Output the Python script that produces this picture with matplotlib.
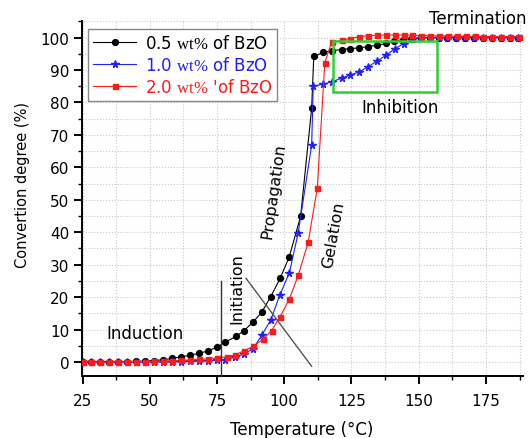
import matplotlib
matplotlib.use("Agg")
import matplotlib.pyplot as plt
from matplotlib.patches import Rectangle
from matplotlib.ticker import MultipleLocator

plt.rcParams['font.family'] = ['DejaVu Sans']
plt.rcParams['mathtext.fontset'] = 'custom'
plt.rcParams['mathtext.rm'] = 'Liberation Serif'

# ---- data ----
temp_05 = [25.0, 28.3, 31.6, 34.9, 38.2, 41.5, 44.8, 48.1, 51.4, 54.8, 58.2, 61.6, 65.0, 68.3, 71.6,
           75.0, 78.0, 82.1, 85.1, 88.5, 91.6, 95.0, 98.5, 101.9, 106.1, 110.2, 111.0, 114.5, 117.9,
           121.4, 124.4, 127.8, 131.0, 134.4, 137.8, 140.8, 144.0, 147.3, 150.8, 154.1, 157.4, 160.7,
           164.0, 167.3, 170.6, 173.9, 177.2, 180.5, 183.8, 187.1]
conv_05 = [0, 0, 0, 0.05, 0.1, 0.15, 0.2, 0.3, 0.45, 0.7, 1.1, 1.6, 2.1, 2.7, 3.4,
           4.6, 6.1, 7.9, 9.7, 12.4, 15.3, 20.2, 25.8, 32.5, 44.9, 78.2, 94.2, 95.4, 96.0,
           96.3, 96.6, 96.8, 97.2, 97.6, 98.2, 98.8, 99.4, 99.7, 99.9, 100, 100, 100,
           100, 100, 100, 100, 100, 100, 100, 100]

temp_10 = [25.0, 28.3, 31.6, 34.9, 38.2, 41.5, 44.8, 48.1, 51.4, 54.8, 58.2, 61.6, 65.0, 68.3, 71.6,
           75.0, 78.0, 81.7, 85.1, 88.3, 91.6, 95.0, 98.4, 101.9, 105.2, 110.2, 110.8, 114.3, 117.6,
           121.4, 124.4, 127.8, 131.2, 134.4, 137.8, 141.2, 144.5, 147.8, 150.8, 154.1, 157.4, 160.7,
           164.0, 167.3, 170.6, 173.9, 177.2, 180.5, 183.8, 187.1]
conv_10 = [0, 0, 0, 0, 0, 0, 0, 0.02, 0.05, 0.08, 0.1, 0.15, 0.2, 0.25, 0.35,
           0.5, 0.7, 1.5, 2.5, 4.0, 8.2, 13.0, 20.7, 27.5, 39.8, 66.8, 85.0, 85.6, 86.3,
           87.5, 88.4, 89.4, 91.0, 92.7, 94.5, 96.6, 98.1, 99.5, 100, 100, 100, 100,
           100, 100, 100, 100, 100, 100, 100, 100]

temp_20 = [25.0, 28.3, 31.6, 34.9, 38.2, 41.5, 44.8, 48.1, 51.4, 54.8, 58.2, 61.6, 65.0, 68.3, 71.6,
           75.1, 78.6, 81.7, 85.1, 88.5, 92.1, 95.3, 98.5, 101.9, 105.2, 108.9, 112.3, 115.1, 117.6,
           121.4, 124.4, 127.8, 131.2, 134.5, 137.8, 141.1, 144.4, 147.7, 151.0, 154.3, 157.6, 160.9,
           164.2, 167.5, 170.8, 174.1, 177.4, 180.7, 184.0, 187.4]
conv_20 = [0, 0, 0, 0, 0.05, 0.1, 0.1, 0.15, 0.2, 0.3, 0.4, 0.5, 0.6, 0.8, 1.0,
           1.3, 1.6, 2.2, 3.5, 4.8, 7.0, 9.7, 14.0, 19.4, 26.7, 36.9, 53.6, 92.3, 98.5,
           99.2, 99.7, 100.2, 100.6, 100.7, 100.8, 100.8, 100.8, 100.7, 100.6, 100.6, 100.5, 100.5,
           100.4, 100.4, 100.4, 100.3, 100.3, 100.3, 100.3, 100.3]

labels = [r"0.5 $\mathrm{wt\%}$ of BzO", r"1.0 $\mathrm{wt\%}$ of BzO", r"2.0 $\mathrm{wt\%}$ 'of BzO"]
colors = ['black', '#1f1fff', '#ff1a1a']
x_ticks = [25, 50, 75, 100, 125, 150, 175]
y_ticks = [0, 10, 20, 30, 40, 50, 60, 70, 80, 90, 100]

fig = plt.figure(figsize=(5.3, 4.39), dpi=100)
ax = fig.add_axes([0.1547, 0.1412, 0.8321, 0.8094])

ax.plot(temp_05, conv_05, '-o', color=colors[0], lw=0.8, ms=4.2, label=labels[0], zorder=3)
ax.plot(temp_10, conv_10, '-*', color=colors[1], lw=0.8, ms=5.5, label=labels[1], zorder=4)
ax.plot(temp_20, conv_20, '-s', color=colors[2], lw=0.8, ms=3.6, label=labels[2], zorder=5)

ax.set_xlim(24.8, 188.8)
ax.set_ylim(-4.3, 105.2)
ax.set_xticks(x_ticks)
ax.set_yticks(y_ticks)
ax.xaxis.set_minor_locator(MultipleLocator(12.5))
ax.yaxis.set_minor_locator(MultipleLocator(5))

ax.grid(True, which='both', ls=':', color='#c8c8c8', lw=0.8, zorder=0)
ax.set_axisbelow(True)
for s in ['top', 'right']:
    ax.spines[s].set_visible(False)
for s in ['left', 'bottom']:
    ax.spines[s].set_linewidth(1.4)
ax.tick_params(which='major', direction='out', length=5.5, width=1.4, labelsize=11)
ax.tick_params(axis='x', which='major', pad=7)
ax.tick_params(which='minor', direction='out', length=3, width=1.0)

ax.set_xlabel('Temperature (°C)', fontsize=12)
ax.xaxis.set_label_coords(0.499, -0.125)
ax.set_ylabel('Convertion degree (%)', fontsize=10.5)
ax.yaxis.set_label_coords(-0.118, 0.54)

# annotations
ax.plot([76.5, 76.5], [-4.3, 25.1], color='#333333', lw=1.0, zorder=6, clip_on=False)
ax.plot([85.8, 110.2], [25.8, -1.3], color='#555555', lw=1.0, zorder=6)
fs = 12
ax.text(48.2, 9.0, 'Induction', fontsize=fs, ha='center', va='center')
ax.text(82.3, 23.0, 'Initiation', fontsize=11.5, ha='center', va='center', rotation=90)
ax.text(95.9, 52.9, 'Propagation', fontsize=11.5, ha='center', va='center', rotation=82)
ax.text(118.2, 39.5, 'Gelation', fontsize=11.5, ha='center', va='center', rotation=80)
ax.text(143.0, 78.6, 'Inhibition', fontsize=fs, ha='center', va='center')
ax.text(172.0, 105.9, 'Termination', fontsize=fs, ha='center', va='center', clip_on=False)
ax.add_patch(Rectangle((118.2, 83.2), 156.9 - 118.2, 98.9 - 83.2, fill=False,
                       edgecolor='#2ed12e', lw=1.8, zorder=7))

leg = ax.legend(loc='upper left', bbox_to_anchor=(0.014, 0.977), fontsize=12,
                frameon=True, fancybox=False, edgecolor='#888888', framealpha=1,
                handlelength=2.6, borderpad=0.3, labelspacing=0.25, handletextpad=0.5,
                borderaxespad=0)
leg.get_frame().set_linewidth(1.0)
for t, c in zip(leg.get_texts(), colors):
    t.set_color(c)

fig.savefig('out.png', dpi=100)
